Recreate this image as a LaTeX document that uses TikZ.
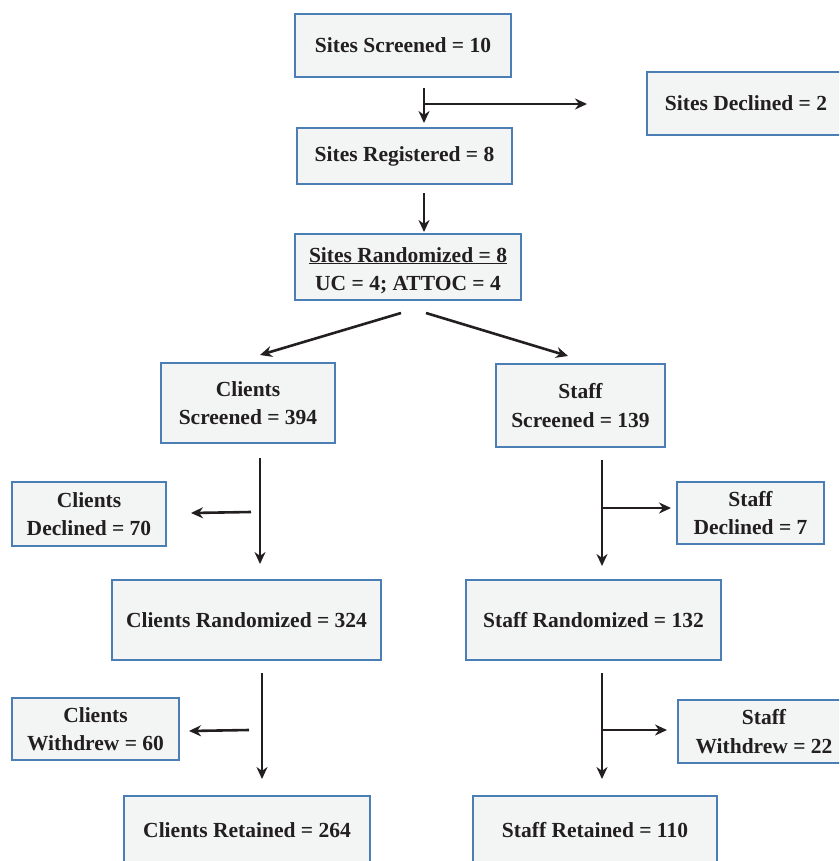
\documentclass[tikz,border=0pt]{standalone}
\usepackage{fontspec}
\setmainfont{Liberation Serif}
\usetikzlibrary{arrows.meta}
\definecolor{bordc}{RGB}{74,126,181}
\definecolor{boxfill}{RGB}{243,245,245}
\definecolor{textc}{RGB}{35,31,32}
\begin{document}
\begin{tikzpicture}[x=1pt,y=-1pt,
  box/.style={draw=bordc, fill=boxfill, line width=1.5pt, align=center, inner sep=0pt,
    text=textc, font=\fontsize{21.5}{28.5}\selectfont\bfseries},
  arr/.style={draw=textc, line width=2.6pt, -{Stealth[length=12pt,width=11pt]}}]
\useasboundingbox (0,0) rectangle (839,861);
\clip (0,0) rectangle (839,861);
% nodes
\node[box, minimum width=216pt, minimum height=63pt] (ss) at (403,45.5) {Sites Screened = 10};
\node[box, minimum width=198pt, minimum height=63pt] (sd) at (746,103.5) {Sites Declined = 2};
\node[box, minimum width=215pt, minimum height=56pt] (sr) at (404.5,156) {Sites Registered = 8};
\node[box, minimum width=226pt, minimum height=66pt] (srand) at (408,267) {\rule{0pt}{22pt}\underline{Sites Randomized = 8}\\UC = 4; ATTOC = 4};
\node[box, minimum width=174pt, minimum height=80pt] (cs) at (248,403) {Clients\\Screened = 394};
\node[box, minimum width=169pt, minimum height=83pt] (sts) at (580.5,405.5) {Staff\\Screened = 139};
\node[box, minimum width=154pt, minimum height=64pt] (cd) at (89,514) {Clients\\Declined = 70};
\node[box, minimum width=147pt, minimum height=62pt] (std) at (750.5,513) {Staff\\Declined = 7};
\node[box, minimum width=269pt, minimum height=80pt] (cr) at (246.5,620) {Clients Randomized = 324};
\node[box, minimum width=255pt, minimum height=80pt] (str) at (593.5,620) {Staff Randomized = 132};
\node[box, minimum width=167pt, minimum height=62pt] (cw) at (95.5,729) {Clients\\Withdrew = 60};
\node[box, minimum width=172pt, minimum height=63pt] (stw) at (764,731.5) {Staff\\Withdrew = 22};
\node[box, minimum width=246pt, minimum height=68pt] (cret) at (247,830) {Clients Retained = 264};
\node[box, minimum width=244pt, minimum height=68pt] (stret) at (595,830) {Staff Retained = 110};
% connector coordinates
\coordinate (a1) at (424,88);   \coordinate (a2) at (424,123);
\coordinate (b1) at (424,104);  \coordinate (b2) at (587,104);
\coordinate (c1) at (424,193);  \coordinate (c2) at (424,232);
\coordinate (d1) at (401,313);  \coordinate (d2) at (260,355);
\coordinate (e1) at (426,313);  \coordinate (e2) at (568,356);
\coordinate (f1) at (260,458);  \coordinate (f2) at (260,564);
\coordinate (g1) at (251,512);  \coordinate (g2) at (191,513);
\coordinate (h1) at (602,460);  \coordinate (h2) at (602,566);
\coordinate (i1) at (602,508);  \coordinate (i2) at (671,508);
\coordinate (j1) at (262,673);  \coordinate (j2) at (262,779);
\coordinate (k1) at (249,730);  \coordinate (k2) at (189,731);
\coordinate (l1) at (602,673);  \coordinate (l2) at (602,779);
\coordinate (m1) at (602,730);  \coordinate (m2) at (667,730);
\draw[arr] (a1) -- (a2);
\draw[arr] (b1) -- (b2);
\draw[arr] (c1) -- (c2);
\draw[arr] (d1) -- (d2);
\draw[arr] (e1) -- (e2);
\draw[arr] (f1) -- (f2);
\draw[arr] (g1) -- (g2);
\draw[arr] (h1) -- (h2);
\draw[arr] (i1) -- (i2);
\draw[arr] (j1) -- (j2);
\draw[arr] (k1) -- (k2);
\draw[arr] (l1) -- (l2);
\draw[arr] (m1) -- (m2);
\end{tikzpicture}
\end{document}
